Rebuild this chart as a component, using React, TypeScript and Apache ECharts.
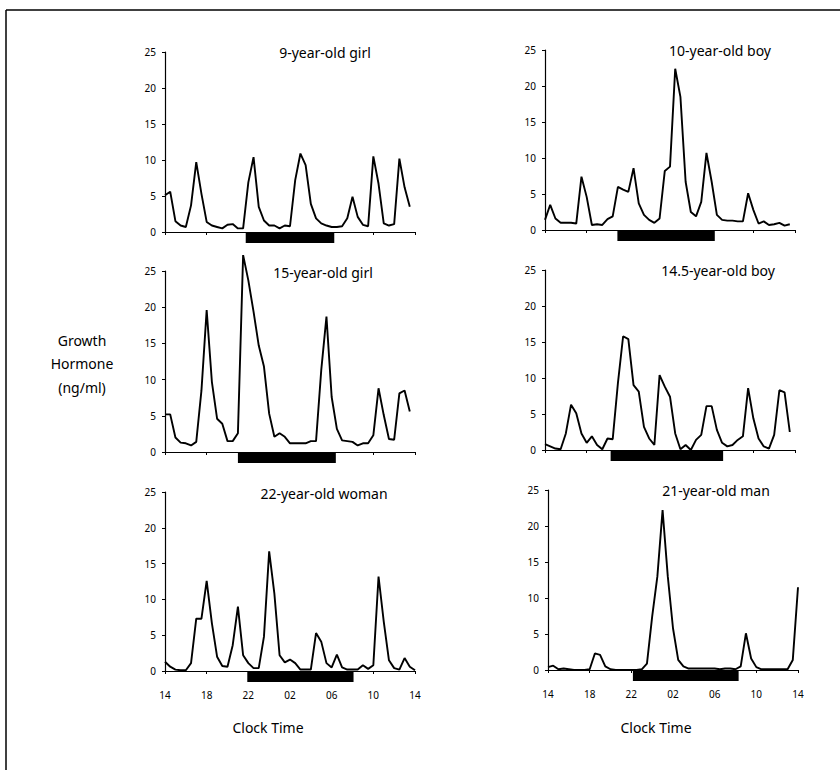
import React, { useEffect, useRef } from "react";
import * as echarts from "echarts";

// Clock-time tick labels (hours after 14:00, every 4 h)
const TICK_LABELS = ["14", "18", "22", "02", "06", "10", "14"];

const PANEL_TITLES = [
  "9-year-old girl",
  "10-year-old boy",
  "15-year-old girl",
  "14.5-year-old boy",
  "22-year-old woman",
  "21-year-old man",
];

// Growth hormone (ng/ml), sampled every 30 min from 14:00
const GIRL_9 = [
  5.1, 5.6, 1.5, 0.9, 0.7, 3.7, 9.7, 5.3, 1.4, 0.9, 0.7, 0.5, 1.0, 1.1, 0.5, 0.5,
  6.9, 10.4, 3.5, 1.6, 0.9, 0.9, 0.5, 0.9, 0.8, 7.2, 10.9, 9.3, 3.9, 1.9, 1.2, 0.9,
  0.7, 0.7, 0.8, 1.9, 4.9, 2.1, 1.0, 0.8, 10.5, 6.7, 1.2, 0.9, 1.1, 10.2, 6.2, 3.5,
];
const BOY_10 = [
  1.4, 3.5, 1.6, 1.0, 1.0, 1.0, 0.9, 7.4, 4.6, 0.7, 0.8, 0.7, 1.5, 1.9, 6.0, 5.6,
  5.3, 8.6, 3.7, 2.1, 1.4, 1.0, 1.6, 8.2, 8.8, 22.4, 18.5, 6.7, 2.5, 1.9, 3.9, 10.7,
  6.7, 2.1, 1.4, 1.3, 1.3, 1.2, 1.2, 5.1, 2.8, 0.9, 1.2, 0.7, 0.8, 1.0, 0.6, 0.8,
];
const GIRL_15 = [
  5.2, 5.2, 2.0, 1.3, 1.2, 0.9, 1.4, 8.5, 19.6, 9.7, 4.6, 3.9, 1.5, 1.5, 2.6, 27.2,
  23.7, 19.4, 14.7, 11.8, 5.3, 2.1, 2.6, 2.1, 1.2, 1.2, 1.2, 1.2, 1.5, 1.5, 11.3, 18.7,
  7.6, 3.2, 1.6, 1.5, 1.4, 0.9, 1.2, 1.2, 2.3, 8.8, 5.1, 1.8, 1.7, 8.1, 8.5, 5.6,
];
const BOY_14_5 = [
  0.8, 0.5, 0.2, 0.1, 2.3, 6.3, 5.1, 2.3, 1.0, 1.9, 0.7, 0.1, 1.6, 1.5, 9.3, 15.8,
  15.4, 9.0, 8.1, 3.2, 1.6, 0.7, 10.4, 8.8, 7.4, 2.3, 0.1, 0.7, 0.0, 1.4, 2.1, 6.1,
  6.1, 2.8, 1.0, 0.5, 0.7, 1.4, 1.9, 8.6, 4.4, 1.6, 0.5, 0.2, 2.1, 8.3, 8.0, 2.5,
];
const WOMAN_22 = [
  1.3, 0.6, 0.2, 0.1, 0.1, 1.1, 7.3, 7.3, 12.6, 6.7, 2.0, 0.7, 0.6, 3.6, 9.0, 2.2,
  1.1, 0.4, 0.4, 4.8, 16.7, 10.8, 2.2, 1.2, 1.6, 1.1, 0.2, 0.2, 0.2, 5.3, 4.1, 1.1,
  0.5, 2.3, 0.5, 0.2, 0.2, 0.2, 0.8, 0.3, 0.8, 13.2, 6.9, 1.5, 0.4, 0.2, 1.8, 0.6,
  0.1,
];
const MAN_21 = [
  0.4, 0.6, 0.1, 0.2, 0.1, 0.0, 0.0, 0.0, 0.1, 2.3, 2.1, 0.5, 0.1, 0.0, 0.0, 0.0,
  0.0, 0.0, 0.1, 0.9, 7.4, 13.0, 22.2, 13.0, 5.8, 1.4, 0.5, 0.2, 0.2, 0.2, 0.2, 0.2,
  0.2, 0.1, 0.2, 0.2, 0.1, 0.5, 5.1, 1.6, 0.4, 0.1, 0.1, 0.1, 0.1, 0.1, 0.1, 1.4,
  11.5,
];
const SERIES_VALUES = [GIRL_9, BOY_10, GIRL_15, BOY_14_5, WOMAN_22, MAN_21];

// Sleep period (hours after 14:00): start, end
const SLEEP_PERIODS = [
  [7.75, 16.25],
  [6.95, 16.3],
  [7.0, 16.4],
  [6.3, 17.1],
  [7.9, 18.1],
  [8.15, 18.3],
];

const SAMPLE_STEP = 0.5;

// layout (pixels)
const GRIDS = [
  { left: 165, top: 52, width: 250, height: 180 },
  { left: 545, top: 50, width: 250, height: 180 },
  { left: 165, top: 271, width: 250, height: 181 },
  { left: 545, top: 270, width: 250, height: 180 },
  { left: 165, top: 492, width: 250, height: 179 },
  { left: 548, top: 490, width: 250, height: 180 },
];
const TITLE_POS = [
  [325, 52],
  [720, 50],
  [323, 272],
  [718, 270],
  [324, 493],
  [716, 490],
];

const FONT = "'Noto Sans', 'Open Sans', sans-serif";

export default function App() {
  const ref = useRef<HTMLDivElement>(null);

  useEffect(() => {
    if (!ref.current) return;
    const chart = echarts.init(ref.current, undefined, { renderer: "svg" });

    const xAxes = GRIDS.map((_, i) => ({
      type: "value",
      gridIndex: i,
      min: 0,
      max: 24,
      interval: 4,
      axisLine: { show: true, onZero: false, lineStyle: { color: "#000", width: 1.2 } },
      axisTick: { show: true, length: 3, inside: false, lineStyle: { color: "#000" } },
      splitLine: { show: false },
      axisLabel: {
        show: i >= 4,
        margin: 19,
        color: "#000",
        fontSize: 10,
        fontFamily: FONT,
        formatter: (v: number) => TICK_LABELS[Math.round(v / 4)] ?? "",
      },
    }));

    const yAxes = GRIDS.map((_, i) => ({
      type: "value",
      gridIndex: i,
      min: 0,
      max: 25,
      interval: 5,
      axisLine: { show: true, lineStyle: { color: "#000", width: 1.2 } },
      axisTick: { show: true, length: 3, lineStyle: { color: "#000" } },
      splitLine: { show: false },
      axisLabel: { margin: 9, color: "#000", fontSize: 10, fontFamily: FONT },
    }));

    const lineSeries = SERIES_VALUES.map((vals, i) => ({
      type: "line",
      xAxisIndex: i,
      yAxisIndex: i,
      data: vals.map((v, k) => [k * SAMPLE_STEP, v]),
      showSymbol: false,
      symbol: "none",
      clip: false,
      lineStyle: { color: "#000", width: 1.9 },
      silent: true,
    }));

    const sleepSeries = SLEEP_PERIODS.map((p, i) => ({
      type: "custom",
      xAxisIndex: i,
      yAxisIndex: i,
      clip: false,
      silent: true,
      data: [[p[0], p[1]]],
      encode: { x: [0, 1] },
      renderItem: (_params: any, api: any) => {
        const a = api.coord([api.value(0), 0]);
        const b = api.coord([api.value(1), 0]);
        return {
          type: "rect",
          shape: { x: a[0], y: a[1] + 1, width: b[0] - a[0], height: 10 },
          style: { fill: "#000" },
        };
      },
    }));

    const textStyle = (size: number) => ({
      fill: "#000",
      fontSize: size,
      fontFamily: FONT,
      align: "center",
      verticalAlign: "middle",
    });

    const graphics: any[] = [
      // frame
      { type: "line", shape: { x1: 6, y1: 10, x2: 6, y2: 770 }, style: { stroke: "#000", lineWidth: 1.5 } },
      { type: "line", shape: { x1: 6, y1: 10, x2: 840, y2: 10 }, style: { stroke: "#000", lineWidth: 1.5 } },
      ...PANEL_TITLES.map((t, i) => ({
        type: "text",
        x: TITLE_POS[i][0],
        y: TITLE_POS[i][1],
        style: { text: t, ...textStyle(14) },
      })),
      { type: "text", x: 82, y: 340, style: { text: "Growth", ...textStyle(14) } },
      { type: "text", x: 82, y: 363, style: { text: "Hormone", ...textStyle(14) } },
      { type: "text", x: 82, y: 387, style: { text: "(ng/ml)", ...textStyle(14) } },
      { type: "text", x: 268, y: 727, style: { text: "Clock Time", ...textStyle(14) } },
      { type: "text", x: 656, y: 727, style: { text: "Clock Time", ...textStyle(14) } },
    ];

    chart.setOption({
      animation: false,
      backgroundColor: "#fff",
      grid: GRIDS.map((g) => ({ ...g, containLabel: false })),
      xAxis: xAxes,
      yAxis: yAxes,
      series: [...lineSeries, ...sleepSeries],
      graphic: graphics,
    });

    return () => chart.dispose();
  }, []);

  return (
    <div
      ref={ref}
      style={{ position: "fixed", left: 0, top: 0, width: 840, height: 770, background: "#fff" }}
    />
  );
}
